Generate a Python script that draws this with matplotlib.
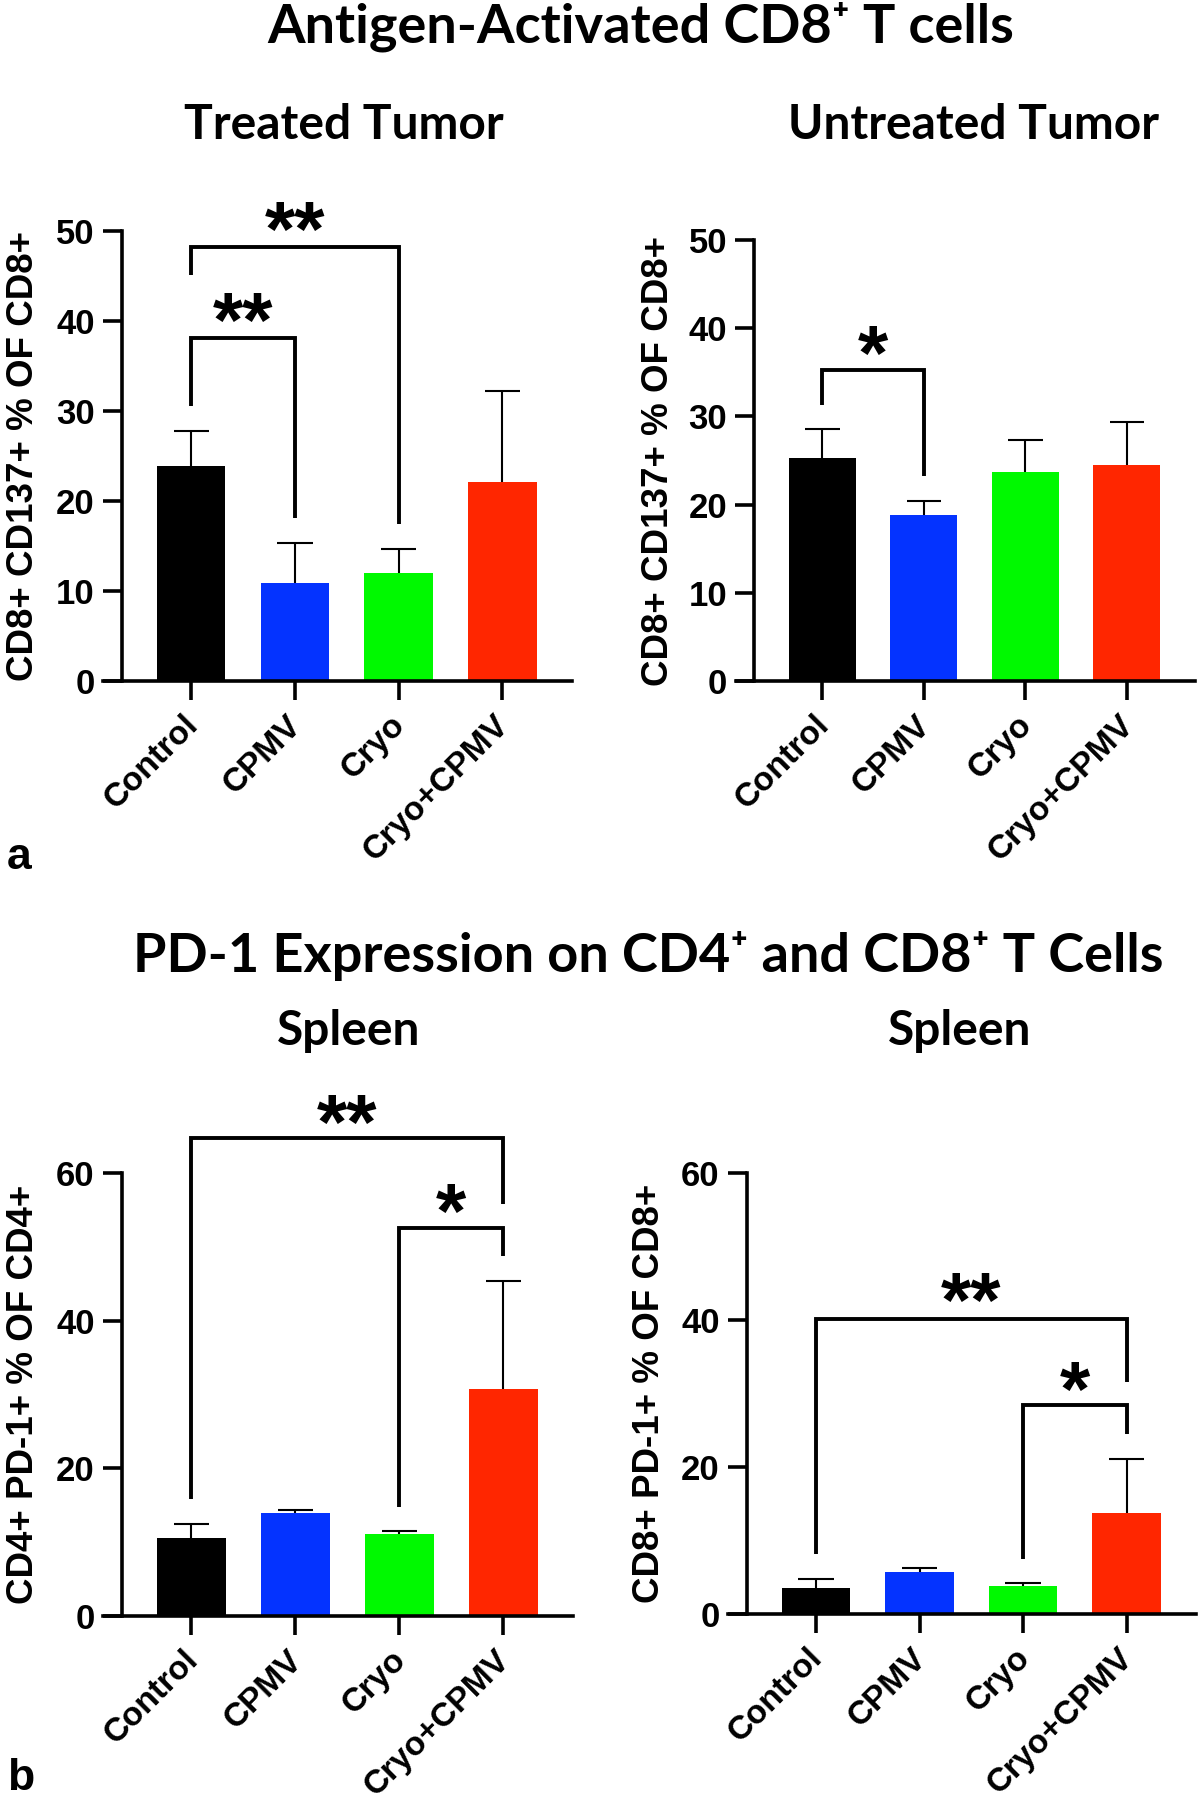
import matplotlib
matplotlib.use('Agg')
import matplotlib.pyplot as plt
import matplotlib.transforms as mtransforms

plt.rcParams['font.family'] = ['Liberation Sans', 'DejaVu Sans']
plt.rcParams['font.weight'] = 'bold'

groups = ['Control', 'CPMV', 'Cryo', 'Cryo+CPMV']
bar_colors = ['#000000', '#0433FF', '#00F900', '#FF2600']

# a: antigen-activated CD8+ T cells (mean, SD)
treated_mean = [23.9, 10.9, 12.0, 22.1]
treated_sd = [3.9, 4.4, 2.7, 10.1]
untreated_mean = [25.3, 18.8, 23.7, 24.5]
untreated_sd = [3.3, 1.6, 3.6, 4.9]

# b: PD-1 expression in spleen
cd4_mean = [10.6, 13.9, 11.1, 30.7]
cd4_sd = [1.8, 0.4, 0.4, 14.7]
cd8_mean = [3.5, 5.7, 3.85, 13.7]
cd8_sd = [1.2, 0.5, 0.35, 7.4]

# brackets: (group 1, group 2, bracket level, leg 1 end, leg 2 end, stars, star level)
treated_sig = [(0, 1, 38.1, 30.6, 18.1, '**', 41.5),
               (0, 2, 48.2, 45.1, 17.5, '**', 51.6)]
untreated_sig = [(0, 1, 35.3, 31.3, 23.2, '*', 38.6)]
cd4_sig = [(2, 3, 52.6, 14.8, 48.8, '*', 56.6),
           (0, 3, 64.7, 15.8, 55.8, '**', 68.6)]
cd8_sig = [(2, 3, 28.4, 7.5, 24.5, '*', 32.3),
           (0, 3, 40.2, 8.2, 31.6, '**', 44.4)]

W, H = 1198, 1800
fig = plt.figure(figsize=(W / 100, H / 100), dpi=100)

title_font = ['Lato', 'DejaVu Sans']
LW = 2.6
STAR_FS = 56


def px_rect(left, right, y0, ytop):
    # pixel box -> figure fraction
    return [left / W, 1 - y0 / H, (right - left) / W, (y0 - ytop) / H]


def draw_panel(rect, means, sds, sigs, ymax, ystep, ylabel, label_x):
    ax = fig.add_axes(rect)
    x = list(range(len(groups)))
    ax.bar(x, means, width=0.66, color=bar_colors, zorder=2)
    tops = [m + s for m, s in zip(means, sds)]
    ax.vlines(x, means, tops, color='black', lw=1.5, zorder=3)
    ax.hlines(tops, [i - 0.17 for i in x], [i + 0.17 for i in x],
              color='black', lw=1.5, zorder=3)

    ax.set_xlim(-0.85, 3.67)
    ax.set_ylim(0, ymax)
    for s in ['top', 'right']:
        ax.spines[s].set_visible(False)
    ax.spines['left'].set_position(('data', -0.67))
    ax.spines['left'].set_bounds(0, ymax)
    ax.spines['left'].set_linewidth(LW)
    ax.spines['bottom'].set_linewidth(LW)
    ax.set_yticks(range(0, ymax + 1, ystep))
    ax.set_xticks(x)
    ax.set_xticklabels(groups)
    ax.tick_params(axis='both', length=13.5, width=LW, direction='out')
    ax.tick_params(axis='y', labelsize=25, pad=6)
    ax.tick_params(axis='x', labelsize=24, pad=7)
    # shift the rotated names a little to the left of their ticks
    shift = mtransforms.ScaledTranslation(-0.09, 0, fig.dpi_scale_trans)
    for lab in ax.get_xticklabels():
        lab.set_rotation(45)
        lab.set_ha('right')
        lab.set_va('top')
        lab.set_rotation_mode('anchor')
        lab.set_transform(lab.get_transform() + shift)
    ax.patch.set_visible(False)

    star_tr = mtransforms.offset_copy(ax.transData, fig=fig,
                                      y=-0.51 * STAR_FS, units='points')
    for g1, g2, level, leg1, leg2, stars, star_y in sigs:
        ax.plot([g1, g1, g2, g2], [leg1, level, level, leg2], color='black',
                lw=2.8, clip_on=False, solid_joinstyle='miter',
                solid_capstyle='butt', zorder=4)
        ax.text((g1 + g2) / 2, star_y, stars, ha='center', va='baseline',
                fontsize=STAR_FS, transform=star_tr, clip_on=False)

    ycen = rect[1] + rect[3] / 2
    fig.text(label_x / W, ycen, ylabel, rotation=90, ha='center',
             va='center', fontsize=26.5)
    return ax


draw_panel(px_rect(103, 572, 681, 231), treated_mean, treated_sd,
           treated_sig, 50, 10, 'CD8+ CD137+ % OF CD8+', 24)
draw_panel(px_rect(736, 1195, 681, 240), untreated_mean, untreated_sd,
           untreated_sig, 50, 10, 'CD8+ CD137+ % OF CD8+', 658)
draw_panel(px_rect(103, 573, 1616, 1173), cd4_mean, cd4_sd,
           cd4_sig, 60, 20, 'CD4+ PD-1+ % OF CD4+', 24)
draw_panel(px_rect(728, 1196, 1614, 1173), cd8_mean, cd8_sd,
           cd8_sig, 60, 20, 'CD8+ PD-1+ % OF CD8+', 649)

# headings
fig.text(641 / W, 1 - 42 / H, 'Antigen-Activated CD8\u207a T cells',
         ha='center', va='baseline', fontsize=39, family=title_font)
fig.text(344 / W, 1 - 139 / H, 'Treated Tumor', ha='center',
         va='baseline', fontsize=34.5, family=title_font)
fig.text(973 / W, 1 - 139 / H, 'Untreated Tumor', ha='center',
         va='baseline', fontsize=34.5, family=title_font)
fig.text(648 / W, 1 - 972 / H,
         'PD-1 Expression on CD4\u207a and CD8\u207a T Cells',
         ha='center', va='baseline', fontsize=39, family=title_font)
fig.text(349 / W, 1 - 1045 / H, 'Spleen', ha='center', va='baseline',
         fontsize=34.5, family=title_font)
fig.text(960 / W, 1 - 1045 / H, 'Spleen', ha='center', va='baseline',
         fontsize=34.5, family=title_font)

fig.text(7 / W, 1 - 869 / H, 'a', ha='left', va='baseline', fontsize=32)
fig.text(7 / W, 1 - 1790 / H, 'b', ha='left', va='baseline', fontsize=32)

fig.savefig('out.png', dpi=100)
